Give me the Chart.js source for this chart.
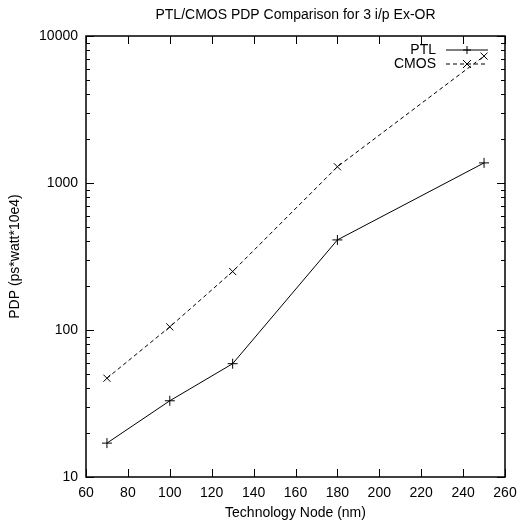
<!DOCTYPE html>
<html lang="en">
<head>
<meta charset="UTF-8">
<title>PTL/CMOS PDP Comparison</title>
<script src="https://cdn.jsdelivr.net/npm/chart.js"></script>
<style>
  html, body { margin: 0; padding: 0; background: #fff; }
  #wrap { width: 517px; height: 527px; }
</style>
</head>
<body>
<div id="wrap"><canvas id="pdpChart"></canvas></div>
<script>
// data
const nodes = [70, 100, 130, 180, 250];
const ptlPdp = [17, 33, 59, 410, 1370];
const cmosPdp = [47, 105, 250, 1290, 7300];
const xTicks = [60, 80, 100, 120, 140, 160, 180, 200, 220, 240, 260];
const yTicks = [10, 20, 30, 40, 50, 60, 70, 80, 90, 100, 200, 300, 400, 500, 600, 700, 800, 900,
                1000, 2000, 3000, 4000, 5000, 6000, 7000, 8000, 9000, 10000];
const yLabels = [10, 100, 1000, 10000];

const font = 'Liberation Sans, Arial, Helvetica, sans-serif';

// gnuplot style: ticks pointing inwards on all four sides, plus a line-sample legend
const gnuplotLook = {
  id: 'gnuplotLook',
  afterDraw(chart) {
    const ctx = chart.ctx;
    const a = chart.chartArea;
    const xs = chart.scales.x, ys = chart.scales.y;
    ctx.save();
    ctx.strokeStyle = '#000';
    ctx.lineWidth = 1;
    ctx.beginPath();
    xTicks.forEach(v => {
      const px = Math.round(xs.getPixelForValue(v)) + 0.5;
      ctx.moveTo(px, a.bottom); ctx.lineTo(px, a.bottom - 8);
      ctx.moveTo(px, a.top); ctx.lineTo(px, a.top + 8);
    });
    yTicks.forEach(v => {
      const py = Math.round(ys.getPixelForValue(v)) + 0.5;
      const len = yLabels.includes(v) ? 8 : 4;
      ctx.moveTo(a.left, py); ctx.lineTo(a.left + len, py);
      ctx.moveTo(a.right, py); ctx.lineTo(a.right - len, py);
    });
    ctx.stroke();
    ctx.lineWidth = 1.5;
    ctx.strokeRect(a.left, a.top, a.right - a.left, a.bottom - a.top);

    // legend
    ctx.font = '14px ' + font;
    ctx.fillStyle = '#000';
    ctx.textAlign = 'right';
    ctx.textBaseline = 'middle';
    chart.data.datasets.forEach((ds, i) => {
      const y = a.top + 14 + i * 14;
      ctx.fillText(ds.label, a.right - 69, y);
      ctx.lineWidth = 1;
      ctx.setLineDash(ds.borderDash || []);
      ctx.beginPath();
      ctx.moveTo(a.right - 59, y); ctx.lineTo(a.right - 17, y);
      ctx.stroke();
      ctx.setLineDash([]);
      const cx = a.right - 38, r = 4;
      ctx.beginPath();
      if (ds.pointStyle === 'cross') {
        ctx.moveTo(cx - r, y); ctx.lineTo(cx + r, y);
        ctx.moveTo(cx, y - r); ctx.lineTo(cx, y + r);
      } else {
        ctx.moveTo(cx - r, y - r); ctx.lineTo(cx + r, y + r);
        ctx.moveTo(cx - r, y + r); ctx.lineTo(cx + r, y - r);
      }
      ctx.stroke();
    });
    ctx.restore();
  }
};

new Chart(document.getElementById('pdpChart'), {
  type: 'line',
  data: {
    datasets: [
      {
        label: 'PTL',
        data: nodes.map((x, i) => ({ x: x, y: ptlPdp[i] })),
        borderColor: '#000',
        borderWidth: 1,
        pointStyle: 'cross',
        pointRadius: 5,
        pointBorderColor: '#000',
        pointBorderWidth: 1,
        tension: 0
      },
      {
        label: 'CMOS',
        data: nodes.map((x, i) => ({ x: x, y: cmosPdp[i] })),
        borderColor: '#000',
        borderWidth: 1,
        borderDash: [4, 3],
        pointStyle: 'crossRot',
        pointRadius: 5,
        pointBorderColor: '#000',
        pointBorderWidth: 1,
        tension: 0
      }
    ]
  },
  options: {
    responsive: true,
    maintainAspectRatio: false,
    animation: false,
    layout: { padding: { left: 0, right: 0, top: 0, bottom: 0 } },
    plugins: {
      legend: { display: false },
      tooltip: { enabled: false },
      title: {
        display: true,
        fullSize: false,
        text: 'PTL/CMOS PDP Comparison for 3 i/p Ex-OR',
        color: '#000',
        font: { family: font, size: 14, weight: 'normal' },
        padding: { top: 7, bottom: 12.2 }
      }
    },
    scales: {
      x: {
        type: 'linear',
        min: 60,
        max: 260,
        afterBuildTicks: s => { s.ticks = xTicks.map(v => ({ value: v })); },
        afterFit: s => { s.height = 50; s.paddingRight = 12; },
        grid: { display: false, drawTicks: false },
        border: { display: false },
        ticks: { color: '#000', padding: 8, maxRotation: 0, font: { family: font, size: 14 } },
        title: {
          display: true,
          text: 'Technology Node (nm)',
          color: '#000',
          font: { family: font, size: 14 },
          padding: { top: 0, bottom: 5 }
        }
      },
      y: {
        type: 'logarithmic',
        min: 10,
        max: 10000,
        afterBuildTicks: s => { s.ticks = yTicks.map(v => ({ value: v })); },
        afterFit: s => { s.width = 86; },
        grid: { display: false, drawTicks: false },
        border: { display: false },
        ticks: {
          color: '#000',
          padding: 8,
          autoSkip: false,
          font: { family: font, size: 14 },
          callback: v => yLabels.includes(v) ? String(v) : ''
        },
        title: {
          display: true,
          text: 'PDP (ps*watt*10e4)',
          color: '#000',
          font: { family: font, size: 14 },
          padding: { top: 7, bottom: 0 }
        }
      }
    }
  },
  plugins: [gnuplotLook]
});
</script>
</body>
</html>
